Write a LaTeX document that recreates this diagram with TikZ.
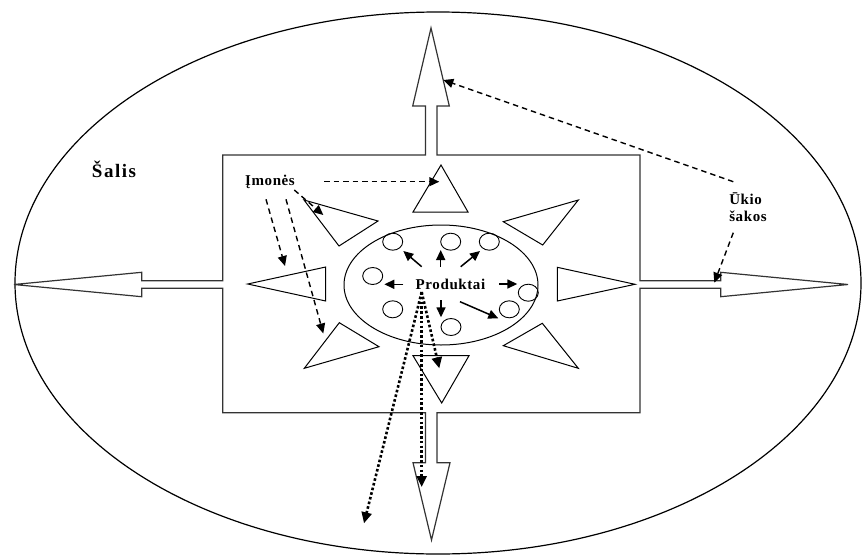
\documentclass[tikz,border=0pt]{standalone}
\usepackage{fontspec}
\setmainfont{Liberation Serif}
\usetikzlibrary{arrows.meta}
\begin{document}
\begin{tikzpicture}[x=1pt,y=-1pt, line join=miter,
  outl/.style={draw=black!80, line width=1.2pt},
  tri/.style={draw=black, line width=1pt},
  bead/.style={draw=black, line width=0.9pt},
  solidarr/.style={-{Triangle[length=10pt,width=9pt]}, line width=1.5pt},
  dasharr/.style={-{Triangle[length=10pt,width=9pt]}, line width=1.4pt, dash pattern=on 5.5pt off 4pt},
  dotarr/.style={-{Triangle[length=11pt,width=10pt]}, line width=2.6pt, dash pattern=on 2.6pt off 2.2pt},
  lbl/.style={font=\bfseries\fontsize{15}{17}\selectfont\addfontfeature{LetterSpace=4}, inner sep=0pt, align=left}]
\useasboundingbox (0,0) rectangle (862,555);
% outer country ellipse
\draw[line width=1.2pt] (438,283) ellipse [x radius=423, y radius=271];
% enterprise box with four outgoing arrows
\draw[outl]
  (222.7,155) -- (425.5,155) -- (425.5,106) -- (412.7,106) -- (431,28) -- (449.3,106) -- (437,106) -- (437,155)
  -- (640,155) -- (640,280.7) -- (720.7,280.7) -- (720.7,272.3) -- (848,284.5) -- (720.7,296.7) -- (720.7,288.3) -- (640,288.3)
  -- (640,412.7) -- (437,412.7) -- (437,462.7) -- (450,462.7) -- (431.5,540) -- (413,462.7) -- (425.5,462.7) -- (425.5,412.7)
  -- (222.7,412.7) -- (222.7,288.3) -- (141.7,288.3) -- (141.7,296.7) -- (14,284.5) -- (141.7,272.3) -- (141.7,280.7) -- (222.7,280.7) -- cycle;
% inner products ellipse
\draw[line width=1pt] (441,285) ellipse [x radius=97, y radius=60];
% eight triangles
\draw[tri] (413,212) -- (441,165) -- (468,212) -- cycle;
\draw[tri] (304,200) -- (378,221) -- (339,246) -- cycle;
\draw[tri] (247.7,284) -- (325.7,267) -- (325.7,301) -- cycle;
\draw[tri] (304.3,368.3) -- (339.3,322.7) -- (379,346.7) -- cycle;
\draw[tri] (413,355.7) -- (469,355.7) -- (441.7,403) -- cycle;
\draw[tri] (635,284.3) -- (557.3,267.3) -- (557.3,301) -- cycle;
\draw[tri] (578.3,200) -- (503.3,221.7) -- (542.7,245) -- cycle;
\draw[tri] (578.3,368.3) -- (503.3,345.7) -- (542.3,323.3) -- cycle;
% products (small circles)
\foreach \n/\p in {c1/{(392.7,241.7)}, c2/{(450.7,241.7)}, c3/{(489.3,241.7)}, c4/{(372.7,276)},
                   c5/{(392.7,309.3)}, c6/{(451,327)}, c7/{(528.3,292.7)}, c8/{(509.3,309.3)}}
  \draw[bead] \p ellipse [x radius=10, y radius=8.5];
% labels
\node[lbl, font=\bfseries\fontsize{19}{21}\selectfont\addfontfeature{LetterSpace=8}] (salis) at (114,169) {Šalis};
\node[lbl] (imones) at (270,182) {Įmonės};
\node[lbl] (prod) at (450.5,284) {Produktai};
\node[lbl] (ukio) at (748,207) {Ūkio\\šakos};
% coordinates for connectors
\coordinate (p-ul0) at (421.7,266.7); \coordinate (p-ul1) at (403.3,251);
\coordinate (p-u0) at (440.7,266.7);  \coordinate (p-u1) at (440.7,250);
\coordinate (p-ur0) at (460.7,266.7); \coordinate (p-ur1) at (480,251);
\coordinate (p-l0) at (403.3,284.3);  \coordinate (p-l1) at (384.3,284.3);
\coordinate (p-r0) at (499,284);      \coordinate (p-r1) at (517.3,284);
\coordinate (p-d0) at (441,300);      \coordinate (p-d1) at (441,317.3);
\coordinate (p-dr0) at (460,301.7);   \coordinate (p-dr1) at (498.3,318.3);
\coordinate (p-dot) at (421.7,292);
\coordinate (t-bot) at (439.3,368.3);
\coordinate (a-bot) at (421.7,487);
\coordinate (out-sw) at (364,523.3);
\coordinate (i-r0) at (324,181.7);    \coordinate (t-top) at (439.3,181.7);
\coordinate (i-s0) at (294.3,190);    \coordinate (t-tl) at (323.3,215);
\coordinate (i-a0) at (266,199.3);    \coordinate (t-l) at (285,266);
\coordinate (i-b0) at (286,199.3);    \coordinate (t-bl) at (323.3,333.5);
\coordinate (u-a0) at (733.3,181.7);  \coordinate (a-up) at (443.3,80);
\coordinate (u-b0) at (733.3,232.7);  \coordinate (a-right) at (714.3,282.7);
% solid arrows from products label
\foreach \a in {ul,u,ur,l,r,d,dr}
  \draw[solidarr] (p-\a0) -- (p-\a1);
% dotted arrows
\draw[dotarr] (p-dot) -- (t-bot);
\draw[dotarr] (p-dot) -- (a-bot);
\draw[dotarr] (p-dot) -- (out-sw);
% dashed arrows from enterprises
\draw[dasharr] (i-r0) -- (t-top);
\draw[dasharr] (i-s0) -- (t-tl);
\draw[dasharr] (i-a0) -- (t-l);
\draw[dasharr] (i-b0) -- (t-bl);
% dashed arrows from branches
\draw[dasharr] (u-a0) -- (a-up);
\draw[dasharr] (u-b0) -- (a-right);
\end{tikzpicture}
\end{document}
